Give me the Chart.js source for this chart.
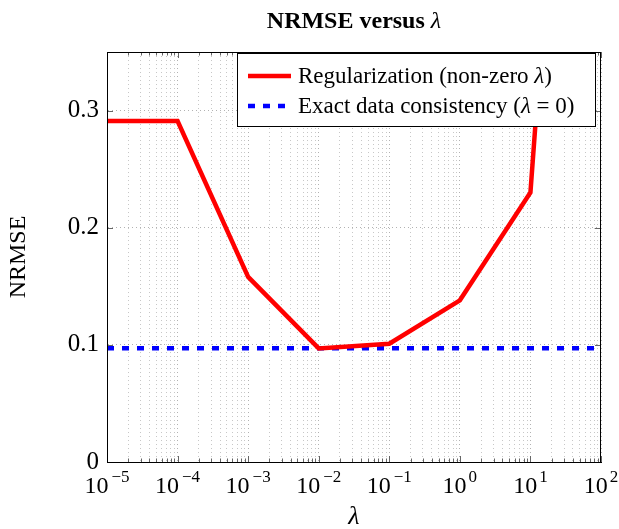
<!DOCTYPE html>
<html>
<head>
<meta charset="utf-8">
<script src="https://cdn.jsdelivr.net/npm/chart.js@4"></script>
<style>
  html, body { margin: 0; padding: 0; background: #fff; }
  #wrap { width: 619px; height: 529px; }
</style>
</head>
<body>
<div id="wrap"><canvas id="nrmseChart" width="619" height="529"></canvas></div>
<script>
// values
const lambdas = [1e-5, 1e-4, 1e-3, 1e-2, 1e-1, 1e0, 1e1, 1e2];
const regNrmse = [0.291, 0.291, 0.158, 0.097, 0.101, 0.138, 0.230, 1.05];
const exactNrmse = [0.097, 0.097, 0.097, 0.097, 0.097, 0.097, 0.097, 0.097];
const xExponents = [-5, -4, -3, -2, -1, 0, 1, 2];
const yTicks = [0, 0.1, 0.2, 0.3];

const SERIF = '"Liberation Serif", "DejaVu Serif", serif';

// all log ticks: 1..9 x 10^n, plus the last decade
function logTicks() {
  const out = [];
  for (let i = 0; i < xExponents.length - 1; i++) {
    for (let m = 1; m <= 9; m++) out.push(m * Math.pow(10, xExponents[i]));
  }
  out.push(Math.pow(10, xExponents[xExponents.length - 1]));
  return out;
}
function isDecade(v) {
  const l = Math.log10(v);
  return Math.abs(l - Math.round(l)) < 1e-9;
}

// title with bold words and italic lambda
const titlePlugin = {
  id: 'mixedTitle',
  afterDraw(chart) {
    const ctx = chart.ctx;
    const a = chart.chartArea;
    const boldPart = 'NRMSE versus ';
    const mathPart = 'λ';
    ctx.save();
    ctx.fillStyle = '#000';
    ctx.textBaseline = 'alphabetic';
    ctx.font = 'bold 24px ' + SERIF;
    const w1 = ctx.measureText(boldPart).width;
    ctx.font = 'italic 24px ' + SERIF;
    const w2 = ctx.measureText(mathPart).width;
    let x = (a.left + a.right) / 2 - (w1 + w2) / 2;
    ctx.font = 'bold 24px ' + SERIF;
    ctx.textAlign = 'left';
    ctx.fillText(boldPart, x, 28);
    ctx.font = 'italic 24px ' + SERIF;
    ctx.fillText(mathPart, x + w1, 28);
    ctx.restore();
  }
};

// 10^n labels under the x axis
const xLabelPlugin = {
  id: 'xPowerLabels',
  afterDraw(chart) {
    const ctx = chart.ctx;
    const xs = chart.scales.x;
    const a = chart.chartArea;
    ctx.save();
    ctx.fillStyle = '#000';
    ctx.textBaseline = 'alphabetic';
    ctx.textAlign = 'left';
    xExponents.forEach(e => {
      const px = xs.getPixelForValue(Math.pow(10, e));
      const base = '10';
      const sup = e < 0 ? '\u2212' + Math.abs(e) : String(e);
      ctx.font = '24px ' + SERIF;
      const wb = ctx.measureText(base).width;
      ctx.font = '17px ' + SERIF;
      const ws = ctx.measureText(sup).width;
      const gap = e < 0 ? 3 : 2;
      const x0 = px - (wb + gap + ws) / 2;
      ctx.font = '24px ' + SERIF;
      ctx.fillText(base, x0, a.bottom + 31);
      ctx.font = '17px ' + SERIF;
      ctx.fillText(sup, x0 + wb + gap, a.bottom + 20);
    });
    ctx.restore();
  }
};

// inward tick marks on all four sides
const framePlugin = {
  id: 'frame',
  afterDatasetsDraw(chart) {
    const ctx = chart.ctx;
    const a = chart.chartArea;
    const xs = chart.scales.x;
    const ys = chart.scales.y;
    ctx.save();
    ctx.strokeStyle = '#666';
    ctx.lineWidth = 1;
    ctx.beginPath();
    logTicks().forEach(v => {
      const px = Math.round(xs.getPixelForValue(v)) + 0.5;
      const len = isDecade(v) ? 6 : 3.5;
      ctx.moveTo(px, a.bottom); ctx.lineTo(px, a.bottom - len);
      ctx.moveTo(px, a.top); ctx.lineTo(px, a.top + len);
    });
    yTicks.forEach(v => {
      const py = Math.round(ys.getPixelForValue(v)) + 0.5;
      ctx.moveTo(a.left, py); ctx.lineTo(a.left + 6, py);
      ctx.moveTo(a.right, py); ctx.lineTo(a.right - 6, py);
    });
    ctx.stroke();
    ctx.restore();
  }
};

// legend box inside the plot, upper right
const legendPlugin = {
  id: 'insideLegend',
  afterDatasetsDraw(chart) {
    const ctx = chart.ctx;
    const a = chart.chartArea;
    const ds = chart.data.datasets;
    const boxR = a.right - 5, boxT = a.top + 1;
    const boxL = 237, boxB = 127;
    ctx.save();
    ctx.fillStyle = '#fff';
    ctx.fillRect(boxL, boxT, boxR - boxL, boxB - boxT);
    ctx.strokeStyle = '#000';
    ctx.lineWidth = 1;
    ctx.strokeRect(boxL + 0.5, boxT + 0.5, boxR - boxL - 1, boxB - boxT - 1);
    const rows = [76, 106];
    ds.forEach((d, i) => {
      const y = rows[i];
      ctx.beginPath();
      ctx.strokeStyle = d.borderColor;
      ctx.lineWidth = d.borderWidth;
      ctx.setLineDash(d.borderDash || []);
      ctx.moveTo(248, y); ctx.lineTo(291, y);
      ctx.stroke();
      ctx.setLineDash([]);
      // label text, lambda parts in italic
      let x = 298;
      ctx.fillStyle = '#000';
      ctx.textBaseline = 'middle';
      ctx.textAlign = 'left';
      d.legendParts.forEach(p => {
        ctx.font = (p.italic ? 'italic ' : '') + '23px ' + SERIF;
        ctx.fillText(p.t, x, y + 1);
        x += ctx.measureText(p.t).width;
      });
    });
    ctx.restore();
  }
};

const ctx = document.getElementById('nrmseChart').getContext('2d');
const chart = new Chart(ctx, {
  type: 'line',
  data: {
    datasets: [{
      label: 'Regularization (non-zero λ)',
      legendParts: [{ t: 'Regularization (non-zero ' }, { t: 'λ', italic: true }, { t: ')' }],
      data: lambdas.map((l, i) => ({ x: l, y: regNrmse[i] })),
      borderColor: '#ff0000',
      borderWidth: 4.5,
      borderJoinStyle: 'miter',
      pointRadius: 0,
      tension: 0,
      fill: false
    }, {
      label: 'Exact data consistency (λ = 0)',
      legendParts: [{ t: 'Exact data consistency (' }, { t: 'λ', italic: true }, { t: ' = 0)' }],
      data: lambdas.map((l, i) => ({ x: l, y: exactNrmse[i] })),
      borderColor: '#0000ff',
      borderWidth: 4.5,
      borderDash: [7, 8],
      pointRadius: 0,
      tension: 0,
      fill: false
    }]
  },
  options: {
    responsive: false,
    animation: false,
    layout: { padding: { top: 52, right: 18, left: 0, bottom: 0 } },
    plugins: { legend: { display: false }, title: { display: false }, tooltip: { enabled: false } },
    scales: {
      x: {
        type: 'logarithmic',
        min: 1e-5,
        max: 1e2,
        afterBuildTicks: scale => { scale.ticks = logTicks().map(v => ({ value: v })); },
        afterFit: scale => { scale.height = 67; },
        ticks: { display: false },
        grid: {
          drawTicks: false,
          color: c => isDecade(c.tick.value) ? 'rgba(0,0,0,0.3)' : 'rgba(0,0,0,0.22)',
          lineWidth: 1
        },
        border: { display: true, color: '#000', dash: [1, 3] },
        title: {
          display: true,
          text: 'λ',
          color: '#000',
          font: { family: SERIF, size: 26, style: 'italic', lineHeight: 0.9 },
          padding: { top: 0, bottom: 0 }
        }
      },
      y: {
        min: 0,
        max: 0.35,
        afterBuildTicks: scale => { scale.ticks = yTicks.map(v => ({ value: v })); },
        afterFit: scale => { scale.width = 107; },
        ticks: {
          color: '#000',
          padding: 8,
          font: { family: SERIF, size: 25 },
          callback: v => v === 0 ? '0' : v.toFixed(1)
        },
        grid: { drawTicks: false, color: 'rgba(0,0,0,0.3)', lineWidth: 1 },
        border: { display: true, color: '#000', dash: [1, 3] },
        title: {
          display: true,
          text: 'NRMSE',
          color: '#000',
          font: { family: SERIF, size: 24 },
          padding: { top: 4, bottom: 4 }
        }
      }
    }
  },
  plugins: [framePlugin, legendPlugin, titlePlugin, xLabelPlugin, {
    id: 'box',
    afterDraw(chart) {
      const a = chart.chartArea;
      const c = chart.ctx;
      c.save();
      c.strokeStyle = '#000';
      c.lineWidth = 1;
      c.strokeRect(Math.round(a.left) + 0.5, Math.round(a.top) + 0.5,
        Math.round(a.right - a.left) - 1, Math.round(a.bottom - a.top));
      c.restore();
    }
  }]
});
</script>
</body>
</html>
